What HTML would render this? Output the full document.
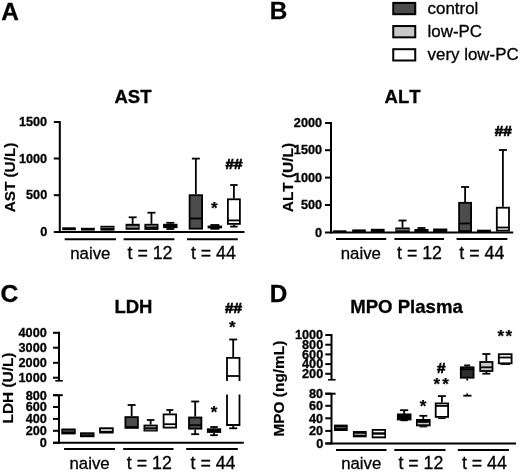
<!DOCTYPE html>
<html><head><meta charset="utf-8"><style>html,body{margin:0;padding:0;background:#fff}svg{display:block;will-change:transform;filter:blur(0.4px)}text{font-family:"Liberation Sans",sans-serif;fill:#000;font-kerning:none}</style></head><body>
<svg width="520" height="472" viewBox="0 0 520 472">
<rect width="520" height="472" fill="#fff"/>
<text x="1.3" y="19.5" font-size="24.4" font-weight="bold" text-anchor="start" stroke="#000" stroke-width="0.3">A</text>
<text x="269.7" y="19.4" font-size="24.3" font-weight="bold" text-anchor="start" stroke="#000" stroke-width="0.3">B</text>
<text x="0.4" y="301.9" font-size="24.7" font-weight="bold" text-anchor="start" stroke="#000" stroke-width="0.3">C</text>
<text x="269.8" y="301.6" font-size="24.3" font-weight="bold" text-anchor="start" stroke="#000" stroke-width="0.3">D</text>
<rect x="393.25" y="2.9" width="22" height="11.3" fill="#4c4c4c" stroke="#000" stroke-width="2"/>
<text x="427.6" y="13.9" font-size="16.9" text-anchor="start" stroke="#000" stroke-width="0.3">control</text>
<rect x="393.25" y="26.05" width="22" height="11.3" fill="#c8c8c8" stroke="#000" stroke-width="2"/>
<text x="427.6" y="37.05" font-size="16.9" text-anchor="start" stroke="#000" stroke-width="0.3">low-PC</text>
<rect x="393.25" y="49.2" width="22" height="11.3" fill="#fff" stroke="#000" stroke-width="2"/>
<text x="427.6" y="60.2" font-size="16.9" text-anchor="start" stroke="#000" stroke-width="0.3">very low-PC</text>
<text x="133" y="102.5" font-size="18.5" font-weight="bold" text-anchor="middle" stroke="#000" stroke-width="0.3">AST</text>
<line x1="59.8" y1="121" x2="59.8" y2="232.9" stroke="#000" stroke-width="2"/>
<line x1="53.8" y1="231.9" x2="244.5" y2="231.9" stroke="#000" stroke-width="2"/>
<line x1="53.8" y1="122" x2="59.8" y2="122" stroke="#000" stroke-width="2"/>
<text x="47.2" y="126.1" font-size="12.7" font-weight="bold" text-anchor="end" stroke="#000" stroke-width="0.3">1500</text>
<line x1="53.8" y1="158.5" x2="59.8" y2="158.5" stroke="#000" stroke-width="2"/>
<text x="47.2" y="162.6" font-size="12.7" font-weight="bold" text-anchor="end" stroke="#000" stroke-width="0.3">1000</text>
<line x1="53.8" y1="195.2" x2="59.8" y2="195.2" stroke="#000" stroke-width="2"/>
<text x="47.2" y="199.29999999999998" font-size="12.7" font-weight="bold" text-anchor="end" stroke="#000" stroke-width="0.3">500</text>
<text x="47.2" y="236.0" font-size="12.7" font-weight="bold" text-anchor="end" stroke="#000" stroke-width="0.3">0</text>
<text transform="translate(14.8,177.5) rotate(-90)" font-size="15.3" font-weight="bold" text-anchor="middle" stroke="#000" stroke-width="0.2">AST (U/L)</text>
<line x1="64.7" y1="239.2" x2="116" y2="239.2" stroke="#000" stroke-width="2"/>
<text x="90.35" y="258.5" font-size="16.8" text-anchor="middle" stroke="#000" stroke-width="0.3">naive</text>
<line x1="123.6" y1="239.2" x2="174.4" y2="239.2" stroke="#000" stroke-width="2"/>
<text x="127.5" y="258.5" font-size="17.8" text-anchor="start" stroke="#000" stroke-width="0.3">t = 12</text>
<line x1="187" y1="239.2" x2="237.8" y2="239.2" stroke="#000" stroke-width="2"/>
<text x="190.9" y="258.5" font-size="17.8" text-anchor="start" stroke="#000" stroke-width="0.3">t = 44</text>
<rect x="62.2" y="227.3" width="13.6" height="2.9" fill="#000"/>
<rect x="81" y="227.8" width="13.8" height="2.8" fill="#000"/>
<rect x="100.4" y="225.8" width="14.1" height="4.8" fill="#000"/>
<line x1="101.30000000000001" y1="227.6" x2="113.6" y2="227.6" stroke="#666" stroke-width="1"/>
<line x1="132.64999999999998" y1="217.3" x2="132.64999999999998" y2="223.8" stroke="#000" stroke-width="1.8"/>
<line x1="128.64999999999998" y1="217.3" x2="136.64999999999998" y2="217.3" stroke="#000" stroke-width="1.8"/>
<rect x="126.5" y="224.7" width="12.3" height="4.2" fill="#4c4c4c" stroke="#000" stroke-width="1.8"/>
<line x1="126.5" y1="226.9" x2="138.79999999999998" y2="226.9" stroke="#999" stroke-width="1"/>
<line x1="151.45" y1="212.7" x2="151.45" y2="223.8" stroke="#000" stroke-width="1.8"/>
<line x1="147.45" y1="212.7" x2="155.45" y2="212.7" stroke="#000" stroke-width="1.8"/>
<rect x="145.3" y="224.7" width="12.3" height="4.3" fill="#c8c8c8" stroke="#000" stroke-width="1.8"/>
<line x1="145.3" y1="227.4" x2="157.6" y2="227.4" stroke="#000" stroke-width="1.8"/>
<line x1="170.3" y1="222.8" x2="170.3" y2="223.8" stroke="#000" stroke-width="1.8"/>
<line x1="166.3" y1="222.8" x2="174.3" y2="222.8" stroke="#000" stroke-width="1.8"/>
<line x1="170.3" y1="228.1" x2="170.3" y2="229" stroke="#000" stroke-width="1.8"/>
<line x1="166.3" y1="229" x2="174.3" y2="229" stroke="#000" stroke-width="1.8"/>
<rect x="163.1" y="223.8" width="14.4" height="4.3" fill="#000"/>
<line x1="195.85" y1="158.6" x2="195.85" y2="194.3" stroke="#000" stroke-width="1.8"/>
<line x1="191.85" y1="158.6" x2="199.85" y2="158.6" stroke="#000" stroke-width="1.8"/>
<rect x="189.6" y="195.2" width="12.5" height="33.5" fill="#4c4c4c" stroke="#000" stroke-width="1.8"/>
<line x1="189.6" y1="218.5" x2="202.1" y2="218.5" stroke="#000" stroke-width="1.8"/>
<line x1="214.85" y1="225" x2="214.85" y2="225.6" stroke="#000" stroke-width="1.8"/>
<line x1="210.35" y1="225" x2="219.35" y2="225" stroke="#000" stroke-width="1.8"/>
<line x1="214.85" y1="228.4" x2="214.85" y2="228.8" stroke="#000" stroke-width="1.8"/>
<line x1="210.35" y1="228.8" x2="219.35" y2="228.8" stroke="#000" stroke-width="1.8"/>
<rect x="207.6" y="225.6" width="14.5" height="2.8" fill="#000"/>
<line x1="233.9" y1="185" x2="233.9" y2="198.4" stroke="#000" stroke-width="1.8"/>
<line x1="230.15" y1="185" x2="237.65" y2="185" stroke="#000" stroke-width="1.8"/>
<line x1="233.9" y1="224.8" x2="233.9" y2="226.6" stroke="#000" stroke-width="1.8"/>
<line x1="230.15" y1="226.6" x2="237.65" y2="226.6" stroke="#000" stroke-width="1.8"/>
<rect x="227.9" y="199.3" width="12.0" height="24.6" fill="#fff" stroke="#000" stroke-width="1.8"/>
<line x1="227.9" y1="220.4" x2="239.9" y2="220.4" stroke="#000" stroke-width="1.8"/>
<text x="234" y="169" font-size="15.3" font-weight="bold" text-anchor="middle" stroke="#000" stroke-width="0.7">##</text>
<text x="402.6" y="102.5" font-size="18.5" font-weight="bold" text-anchor="middle" stroke="#000" stroke-width="0.3">ALT</text>
<line x1="331" y1="122" x2="331" y2="233.5" stroke="#000" stroke-width="2"/>
<line x1="325" y1="232.5" x2="513.2" y2="232.5" stroke="#000" stroke-width="2"/>
<line x1="325" y1="123" x2="331" y2="123" stroke="#000" stroke-width="2"/>
<text x="322.1" y="127.0" font-size="12.7" font-weight="bold" text-anchor="end" stroke="#000" stroke-width="0.3">2000</text>
<line x1="325" y1="150.2" x2="331" y2="150.2" stroke="#000" stroke-width="2"/>
<text x="322.1" y="154.2" font-size="12.7" font-weight="bold" text-anchor="end" stroke="#000" stroke-width="0.3">1500</text>
<line x1="325" y1="177.6" x2="331" y2="177.6" stroke="#000" stroke-width="2"/>
<text x="322.1" y="181.6" font-size="12.7" font-weight="bold" text-anchor="end" stroke="#000" stroke-width="0.3">1000</text>
<line x1="325" y1="205" x2="331" y2="205" stroke="#000" stroke-width="2"/>
<text x="322.1" y="209.0" font-size="12.7" font-weight="bold" text-anchor="end" stroke="#000" stroke-width="0.3">500</text>
<text x="322.1" y="236.5" font-size="12.7" font-weight="bold" text-anchor="end" stroke="#000" stroke-width="0.3">0</text>
<text transform="translate(293.4,177.6) rotate(-90)" font-size="15.4" font-weight="bold" text-anchor="middle" stroke="#000" stroke-width="0.2">ALT (U/L)</text>
<line x1="336" y1="239.1" x2="386.2" y2="239.1" stroke="#000" stroke-width="2"/>
<text x="360.8" y="258.5" font-size="16.8" text-anchor="middle" stroke="#000" stroke-width="0.3">naive</text>
<line x1="394.4" y1="239.1" x2="444" y2="239.1" stroke="#000" stroke-width="2"/>
<text x="397.0" y="258.5" font-size="17.8" text-anchor="start" stroke="#000" stroke-width="0.3">t = 12</text>
<line x1="456.6" y1="239.1" x2="507.4" y2="239.1" stroke="#000" stroke-width="2"/>
<text x="459.3" y="258.5" font-size="17.8" text-anchor="start" stroke="#000" stroke-width="0.3">t = 44</text>
<rect x="333.2" y="230.3" width="13.3" height="1.7" fill="#000"/>
<rect x="352.2" y="229.4" width="13.6" height="2.6" fill="#000"/>
<rect x="370.8" y="228.8" width="13.8" height="3.2" fill="#000"/>
<line x1="402.5" y1="220.5" x2="402.5" y2="227.5" stroke="#000" stroke-width="1.8"/>
<line x1="398.5" y1="220.5" x2="406.5" y2="220.5" stroke="#000" stroke-width="1.8"/>
<rect x="395.3" y="227.5" width="14.4" height="4.5" fill="#000"/>
<line x1="396.2" y1="229.8" x2="408.8" y2="229.8" stroke="#999" stroke-width="1"/>
<line x1="421.45" y1="228" x2="421.45" y2="229" stroke="#000" stroke-width="1.8"/>
<line x1="417.45" y1="228" x2="425.45" y2="228" stroke="#000" stroke-width="1.8"/>
<rect x="414.4" y="229" width="14.1" height="3" fill="#000"/>
<rect x="433.1" y="228.5" width="14.2" height="3.5" fill="#000"/>
<line x1="465.1" y1="187" x2="465.1" y2="201.9" stroke="#000" stroke-width="1.8"/>
<line x1="461.1" y1="187" x2="469.1" y2="187" stroke="#000" stroke-width="1.8"/>
<rect x="459.1" y="202.8" width="12.0" height="28.3" fill="#4c4c4c" stroke="#000" stroke-width="1.8"/>
<line x1="459.09999999999997" y1="223.5" x2="471.1" y2="223.5" stroke="#000" stroke-width="1.8"/>
<rect x="477" y="229.7" width="14" height="2.3" fill="#000"/>
<line x1="502.9" y1="150" x2="502.9" y2="206.8" stroke="#000" stroke-width="1.8"/>
<line x1="498.9" y1="150" x2="506.9" y2="150" stroke="#000" stroke-width="1.8"/>
<rect x="496.8" y="207.7" width="12.2" height="22.9" fill="#fff" stroke="#000" stroke-width="1.8"/>
<line x1="496.79999999999995" y1="227.5" x2="509.0" y2="227.5" stroke="#000" stroke-width="1.8"/>
<text x="503.3" y="136" font-size="15.3" font-weight="bold" text-anchor="middle" stroke="#000" stroke-width="0.7">##</text>
<text x="133.4" y="313" font-size="18.5" font-weight="bold" text-anchor="middle" stroke="#000" stroke-width="0.3">LDH</text>
<line x1="59" y1="331.8" x2="59" y2="381" stroke="#000" stroke-width="2"/>
<line x1="55.3" y1="380.8" x2="62.8" y2="380.8" stroke="#000" stroke-width="1.6"/>
<line x1="53" y1="332.8" x2="59" y2="332.8" stroke="#000" stroke-width="2"/>
<text x="46.8" y="337.1" font-size="12.7" font-weight="bold" text-anchor="end" stroke="#000" stroke-width="0.3">4000</text>
<line x1="53" y1="347.7" x2="59" y2="347.7" stroke="#000" stroke-width="2"/>
<text x="46.8" y="352.0" font-size="12.7" font-weight="bold" text-anchor="end" stroke="#000" stroke-width="0.3">3000</text>
<line x1="53" y1="362.8" x2="59" y2="362.8" stroke="#000" stroke-width="2"/>
<text x="46.8" y="367.1" font-size="12.7" font-weight="bold" text-anchor="end" stroke="#000" stroke-width="0.3">2000</text>
<line x1="53" y1="377.7" x2="59" y2="377.7" stroke="#000" stroke-width="2"/>
<text x="46.8" y="382.0" font-size="12.7" font-weight="bold" text-anchor="end" stroke="#000" stroke-width="0.3">1000</text>
<line x1="59" y1="395.2" x2="59" y2="443.8" stroke="#000" stroke-width="2"/>
<line x1="53" y1="395.2" x2="62.8" y2="395.2" stroke="#000" stroke-width="2"/>
<line x1="53" y1="442.8" x2="243.8" y2="442.8" stroke="#000" stroke-width="2"/>
<line x1="53" y1="395.2" x2="59" y2="395.2" stroke="#000" stroke-width="2"/>
<text x="46.8" y="399.5" font-size="12.7" font-weight="bold" text-anchor="end" stroke="#000" stroke-width="0.3">800</text>
<line x1="53" y1="407" x2="59" y2="407" stroke="#000" stroke-width="2"/>
<text x="46.8" y="411.3" font-size="12.7" font-weight="bold" text-anchor="end" stroke="#000" stroke-width="0.3">600</text>
<line x1="53" y1="418.9" x2="59" y2="418.9" stroke="#000" stroke-width="2"/>
<text x="46.8" y="423.2" font-size="12.7" font-weight="bold" text-anchor="end" stroke="#000" stroke-width="0.3">400</text>
<line x1="53" y1="430.8" x2="59" y2="430.8" stroke="#000" stroke-width="2"/>
<text x="46.8" y="435.1" font-size="12.7" font-weight="bold" text-anchor="end" stroke="#000" stroke-width="0.3">200</text>
<line x1="53" y1="442.8" x2="59" y2="442.8" stroke="#000" stroke-width="2"/>
<text x="46.8" y="447.1" font-size="12.7" font-weight="bold" text-anchor="end" stroke="#000" stroke-width="0.3">0</text>
<text transform="translate(13.3,388) rotate(-90)" font-size="15.4" font-weight="bold" text-anchor="middle" stroke="#000" stroke-width="0.2">LDH (U/L)</text>
<line x1="64.1" y1="449.1" x2="115" y2="449.1" stroke="#000" stroke-width="2"/>
<text x="89.55" y="468.5" font-size="16.8" text-anchor="middle" stroke="#000" stroke-width="0.3">naive</text>
<line x1="123.2" y1="449.1" x2="173.5" y2="449.1" stroke="#000" stroke-width="2"/>
<text x="126.85" y="468.5" font-size="17.8" text-anchor="start" stroke="#000" stroke-width="0.3">t = 12</text>
<line x1="186.2" y1="449.1" x2="237.8" y2="449.1" stroke="#000" stroke-width="2"/>
<text x="190.5" y="468.5" font-size="17.8" text-anchor="start" stroke="#000" stroke-width="0.3">t = 44</text>
<rect x="61.3" y="428.5" width="14.4" height="5.9" fill="#000"/>
<line x1="62.8" y1="431" x2="74.2" y2="431" stroke="#999" stroke-width="0.7"/>
<rect x="80" y="432.3" width="14.5" height="4.9" fill="#000"/>
<line x1="81.5" y1="434.6" x2="93" y2="434.6" stroke="#444" stroke-width="0.8"/>
<rect x="99.1" y="427.3" width="14.6" height="6.2" fill="#000"/>
<rect x="100.9" y="429.3" width="11" height="1.5" fill="#fff"/>
<line x1="131.65" y1="405" x2="131.65" y2="416.2" stroke="#000" stroke-width="1.8"/>
<line x1="127.65" y1="405" x2="135.65" y2="405" stroke="#000" stroke-width="1.8"/>
<rect x="125.4" y="417.1" width="12.5" height="10.8" fill="#4c4c4c" stroke="#000" stroke-width="1.8"/>
<line x1="125.4" y1="427" x2="137.9" y2="427" stroke="#000" stroke-width="1.8"/>
<line x1="150.65" y1="420" x2="150.65" y2="424.6" stroke="#000" stroke-width="1.8"/>
<line x1="146.9" y1="420" x2="154.4" y2="420" stroke="#000" stroke-width="1.8"/>
<rect x="144.4" y="425.5" width="12.5" height="5.1" fill="#c8c8c8" stroke="#000" stroke-width="1.8"/>
<line x1="144.4" y1="428.2" x2="156.9" y2="428.2" stroke="#000" stroke-width="1.8"/>
<line x1="145" y1="429.9" x2="156.3" y2="429.9" stroke="#555" stroke-width="1"/>
<line x1="169.85" y1="410" x2="169.85" y2="413.5" stroke="#000" stroke-width="1.8"/>
<line x1="166.35" y1="410" x2="173.35" y2="410" stroke="#000" stroke-width="1.8"/>
<rect x="163.6" y="414.4" width="12.5" height="13.2" fill="#fff" stroke="#000" stroke-width="1.8"/>
<line x1="163.6" y1="424.2" x2="176.1" y2="424.2" stroke="#000" stroke-width="1.8"/>
<line x1="195.2" y1="401.5" x2="195.2" y2="416.6" stroke="#000" stroke-width="1.8"/>
<line x1="191.2" y1="401.5" x2="199.2" y2="401.5" stroke="#000" stroke-width="1.8"/>
<line x1="195.2" y1="429.6" x2="195.2" y2="434.2" stroke="#000" stroke-width="1.8"/>
<line x1="191.2" y1="434.2" x2="199.2" y2="434.2" stroke="#000" stroke-width="1.8"/>
<rect x="189.0" y="417.5" width="12.4" height="11.2" fill="#4c4c4c" stroke="#000" stroke-width="1.8"/>
<line x1="189.0" y1="425.2" x2="201.4" y2="425.2" stroke="#000" stroke-width="1.8"/>
<line x1="214.05" y1="427" x2="214.05" y2="428.3" stroke="#000" stroke-width="1.8"/>
<line x1="210.25" y1="427" x2="217.85000000000002" y2="427" stroke="#000" stroke-width="1.8"/>
<line x1="214.05" y1="432.9" x2="214.05" y2="435.2" stroke="#000" stroke-width="1.8"/>
<line x1="210.25" y1="435.2" x2="217.85000000000002" y2="435.2" stroke="#000" stroke-width="1.8"/>
<rect x="206.9" y="428.3" width="14.3" height="4.6" fill="#000"/>
<line x1="233.2" y1="339.5" x2="233.2" y2="357.7" stroke="#000" stroke-width="1.8"/>
<line x1="229.2" y1="339.5" x2="237.2" y2="339.5" stroke="#000" stroke-width="1.8"/>
<path d="M227,381.1 V357.8 H239.5 V381.1" fill="#fff" stroke="#000" stroke-width="1.8"/>
<line x1="227" y1="376" x2="239.5" y2="376" stroke="#000" stroke-width="1.8"/>
<path d="M227,394.5 V425 H239.5 V394.5" fill="#fff" stroke="#000" stroke-width="1.8"/>
<line x1="233.2" y1="425" x2="233.2" y2="428.3" stroke="#000" stroke-width="1.8"/>
<line x1="229.2" y1="428.3" x2="237.2" y2="428.3" stroke="#000" stroke-width="1.8"/>
<text x="233.5" y="313.3" font-size="15.3" font-weight="bold" text-anchor="middle" stroke="#000" stroke-width="0.7">##</text>
<text x="406.5" y="313" font-size="18.6" font-weight="bold" text-anchor="middle" stroke="#000" stroke-width="0.3">MPO Plasma</text>
<line x1="331.5" y1="334" x2="331.5" y2="380" stroke="#000" stroke-width="2"/>
<line x1="328" y1="379.8" x2="335.6" y2="379.8" stroke="#000" stroke-width="1.6"/>
<line x1="325.3" y1="335" x2="331.5" y2="335" stroke="#000" stroke-width="2"/>
<text x="323.2" y="339.2" font-size="12.7" font-weight="bold" text-anchor="end" stroke="#000" stroke-width="0.3">1000</text>
<line x1="325.3" y1="344.7" x2="331.5" y2="344.7" stroke="#000" stroke-width="2"/>
<text x="323.2" y="348.9" font-size="12.7" font-weight="bold" text-anchor="end" stroke="#000" stroke-width="0.3">800</text>
<line x1="325.3" y1="354.4" x2="331.5" y2="354.4" stroke="#000" stroke-width="2"/>
<text x="323.2" y="358.59999999999997" font-size="12.7" font-weight="bold" text-anchor="end" stroke="#000" stroke-width="0.3">600</text>
<line x1="325.3" y1="364.1" x2="331.5" y2="364.1" stroke="#000" stroke-width="2"/>
<text x="323.2" y="368.3" font-size="12.7" font-weight="bold" text-anchor="end" stroke="#000" stroke-width="0.3">400</text>
<line x1="325.3" y1="373.8" x2="331.5" y2="373.8" stroke="#000" stroke-width="2"/>
<text x="323.2" y="378.0" font-size="12.7" font-weight="bold" text-anchor="end" stroke="#000" stroke-width="0.3">200</text>
<line x1="331.5" y1="393.7" x2="331.5" y2="444.4" stroke="#000" stroke-width="2"/>
<line x1="325.3" y1="393.7" x2="335.6" y2="393.7" stroke="#000" stroke-width="2"/>
<line x1="325.3" y1="443.4" x2="516" y2="443.4" stroke="#000" stroke-width="2"/>
<line x1="325.3" y1="393.7" x2="331.5" y2="393.7" stroke="#000" stroke-width="2"/>
<text x="323.2" y="397.9" font-size="12.7" font-weight="bold" text-anchor="end" stroke="#000" stroke-width="0.3">80</text>
<line x1="325.3" y1="405.8" x2="331.5" y2="405.8" stroke="#000" stroke-width="2"/>
<text x="323.2" y="410.0" font-size="12.7" font-weight="bold" text-anchor="end" stroke="#000" stroke-width="0.3">60</text>
<line x1="325.3" y1="418.3" x2="331.5" y2="418.3" stroke="#000" stroke-width="2"/>
<text x="323.2" y="422.5" font-size="12.7" font-weight="bold" text-anchor="end" stroke="#000" stroke-width="0.3">40</text>
<line x1="325.3" y1="430.9" x2="331.5" y2="430.9" stroke="#000" stroke-width="2"/>
<text x="323.2" y="435.09999999999997" font-size="12.7" font-weight="bold" text-anchor="end" stroke="#000" stroke-width="0.3">20</text>
<line x1="325.3" y1="443.4" x2="331.5" y2="443.4" stroke="#000" stroke-width="2"/>
<text x="323.2" y="447.59999999999997" font-size="12.7" font-weight="bold" text-anchor="end" stroke="#000" stroke-width="0.3">0</text>
<text transform="translate(284.4,388.6) rotate(-90)" font-size="15.4" font-weight="bold" text-anchor="middle" stroke="#000" stroke-width="0.2">MPO (ng/mL)</text>
<line x1="336" y1="450.1" x2="386.5" y2="450.1" stroke="#000" stroke-width="2"/>
<text x="361.25" y="469.3" font-size="16.8" text-anchor="middle" stroke="#000" stroke-width="0.3">naive</text>
<line x1="394.3" y1="450.1" x2="445.5" y2="450.1" stroke="#000" stroke-width="2"/>
<text x="398.4" y="469.3" font-size="17.8" text-anchor="start" stroke="#000" stroke-width="0.3">t = 12</text>
<line x1="457.8" y1="450.1" x2="509" y2="450.1" stroke="#000" stroke-width="2"/>
<text x="461.9" y="469.3" font-size="17.8" text-anchor="start" stroke="#000" stroke-width="0.3">t = 44</text>
<rect x="334" y="424.6" width="13.7" height="6.4" fill="#000"/>
<line x1="335.7" y1="427.6" x2="346" y2="427.6" stroke="#888" stroke-width="0.7"/>
<rect x="352.9" y="431" width="13.8" height="6.3" fill="#000"/>
<line x1="354.4" y1="434.3" x2="365.2" y2="434.3" stroke="#bbb" stroke-width="1.1"/>
<rect x="371.7" y="429" width="14.3" height="9.3" fill="#000"/>
<rect x="373.3" y="430.8" width="11.1" height="1.5" fill="#fff"/>
<rect x="373.3" y="434.7" width="11.1" height="1.7" fill="#fff"/>
<rect x="396.9" y="413.5" width="14.6" height="6.9" fill="#000"/>
<line x1="404.2" y1="410.2" x2="404.2" y2="414" stroke="#000" stroke-width="1.8"/>
<line x1="400.1" y1="410.2" x2="408.2" y2="410.2" stroke="#000" stroke-width="1.8"/>
<line x1="400.5" y1="420.6" x2="407.8" y2="420.6" stroke="#000" stroke-width="1.2"/>
<rect x="416" y="419" width="14.6" height="7.3" fill="#000"/>
<line x1="417.6" y1="423.6" x2="429" y2="423.6" stroke="#ccc" stroke-width="1.5"/>
<line x1="423.3" y1="415.8" x2="423.3" y2="419.5" stroke="#000" stroke-width="1.8"/>
<line x1="419.4" y1="415.8" x2="427.3" y2="415.8" stroke="#000" stroke-width="1.8"/>
<line x1="419.5" y1="426.8" x2="427.2" y2="426.8" stroke="#000" stroke-width="1.2"/>
<line x1="441.9" y1="396.1" x2="441.9" y2="402.5" stroke="#000" stroke-width="1.8"/>
<line x1="437.9" y1="396.1" x2="445.9" y2="396.1" stroke="#000" stroke-width="1.8"/>
<rect x="435.7" y="403.4" width="12.4" height="13.5" fill="#fff" stroke="#000" stroke-width="1.8"/>
<line x1="435.7" y1="405.9" x2="448.1" y2="405.9" stroke="#000" stroke-width="1.8"/>
<line x1="438.2" y1="418.4" x2="445.6" y2="418.4" stroke="#000" stroke-width="1.2"/>
<line x1="467.2" y1="365.4" x2="467.2" y2="366.4" stroke="#000" stroke-width="1.8"/>
<line x1="464.2" y1="365.4" x2="470.2" y2="365.4" stroke="#000" stroke-width="1.8"/>
<rect x="460.8" y="367.3" width="12.8" height="10.4" fill="#2e2e2e" stroke="#000" stroke-width="1.8"/>
<line x1="460.79999999999995" y1="369.3" x2="473.6" y2="369.3" stroke="#000" stroke-width="1.8"/>
<line x1="467.2" y1="378.4" x2="467.2" y2="380.5" stroke="#000" stroke-width="1.8"/>
<line x1="467.2" y1="393.5" x2="467.2" y2="395.7" stroke="#000" stroke-width="1.8"/>
<line x1="463.3" y1="395.7" x2="471.5" y2="395.7" stroke="#000" stroke-width="1.8"/>
<line x1="486.35" y1="354" x2="486.35" y2="361.1" stroke="#000" stroke-width="1.8"/>
<line x1="482.35" y1="354" x2="490.35" y2="354" stroke="#000" stroke-width="1.8"/>
<line x1="486.35" y1="371.9" x2="486.35" y2="373.7" stroke="#000" stroke-width="1.8"/>
<line x1="482.35" y1="373.7" x2="490.35" y2="373.7" stroke="#000" stroke-width="1.8"/>
<rect x="480.2" y="362.0" width="12.3" height="9.0" fill="#c8c8c8" stroke="#000" stroke-width="1.8"/>
<line x1="480.2" y1="367.3" x2="492.5" y2="367.3" stroke="#000" stroke-width="1.8"/>
<rect x="498.8" y="354.2" width="12.8" height="9.1" fill="#fff" stroke="#000" stroke-width="1.8"/>
<line x1="498.79999999999995" y1="357.5" x2="511.6" y2="357.5" stroke="#000" stroke-width="1.8"/>
<line x1="500.5" y1="364.2" x2="510" y2="364.2" stroke="#000" stroke-width="1.4"/>
<text x="441.2" y="373.2" font-size="15.3" font-weight="bold" text-anchor="middle" stroke="#000" stroke-width="0.7">#</text>
<text x="214.2" y="213.83" font-size="17" font-weight="bold" text-anchor="middle" stroke="#000" stroke-width="0.25">*</text>
<text x="214.15" y="418.18" font-size="17" font-weight="bold" text-anchor="middle" stroke="#000" stroke-width="0.25">*</text>
<text x="232.3" y="332.63" font-size="17" font-weight="bold" text-anchor="middle" stroke="#000" stroke-width="0.25">*</text>
<text x="423" y="412.28" font-size="17" font-weight="bold" text-anchor="middle" stroke="#000" stroke-width="0.25">*</text>
<text x="436.75" y="389.73" font-size="17" font-weight="bold" text-anchor="middle" stroke="#000" stroke-width="0.25">*</text>
<text x="445.45" y="389.73" font-size="17" font-weight="bold" text-anchor="middle" stroke="#000" stroke-width="0.25">*</text>
<text x="500.75" y="341.58" font-size="17" font-weight="bold" text-anchor="middle" stroke="#000" stroke-width="0.25">*</text>
<text x="508.85" y="341.58" font-size="17" font-weight="bold" text-anchor="middle" stroke="#000" stroke-width="0.25">*</text>
</svg></body></html>
